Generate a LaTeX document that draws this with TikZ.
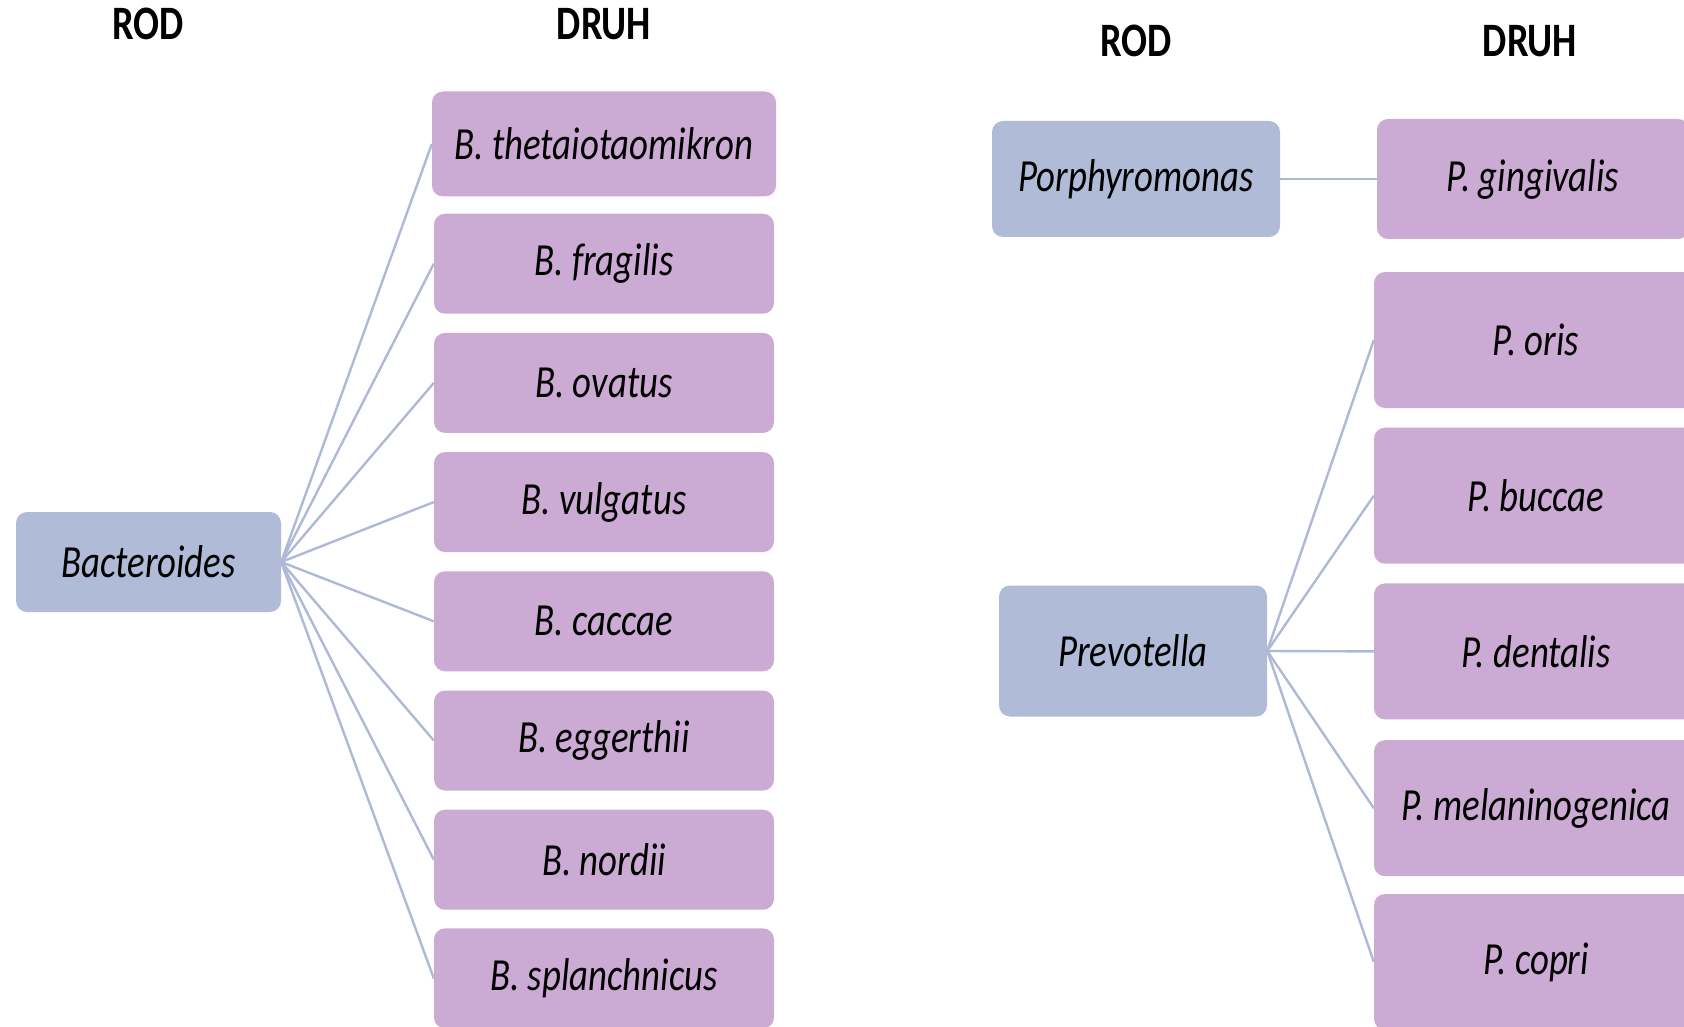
\documentclass[tikz,border=0pt]{standalone}
\usepackage{fontspec}
\setmainfont{Carlito}[FakeStretch=0.80]
\definecolor{genus}{HTML}{B0BBD7}
\definecolor{species}{HTML}{CBABD3}
\definecolor{linkc}{HTML}{AEB9D6}
\begin{document}
\begin{tikzpicture}[x=1pt,y=-1pt,
  box/.style={rounded corners=11pt, inner sep=0pt, font=\fontsize{46}{50}\selectfont\itshape, text=black},
  gbox/.style={box, fill=genus},
  sbox/.style={box, fill=species},
  hdr/.style={font=\fontsize{48}{52}\selectfont\bfseries, text=black, inner sep=0pt},
  link/.style={draw=linkc, line width=2.4pt}]
\useasboundingbox (0,0) rectangle (1684,1027);
\begin{scope}
\clip (0,0) rectangle (1684,1027);
% headers
\node[hdr] (h1) at (148,24) {ROD};
\node[hdr] (h2) at (604,24) {DRUH};
\node[hdr] (h3) at (1136,41) {ROD};
\node[hdr] (h4) at (1530,41) {DRUH};
% left genus
\node[gbox, minimum width=265pt, minimum height=100pt] (bact) at (148.5,562) {Bacteroides};
\node[sbox, minimum width=344pt, minimum height=105pt] (b1) at (604,144) {B. thetaiotaomikron};
\foreach \n/\y/\t in {b2/263.7/B. fragilis, b3/382.9/B. ovatus, b4/502.1/B. vulgatus, b5/621.3/B. caccae, b6/740.5/B. eggerthii, b7/859.7/B. nordii, b8/978.4/B. splanchnicus}
  \node[sbox, minimum width=340pt, minimum height=100pt] (\n) at (604,\y) {\t};
\foreach \n in {b1,b2,b3,b4,b5,b6,b7,b8}
  \draw[link] (bact.east) -- (\n.west);
% right genus
\node[gbox, minimum width=288pt, minimum height=116pt] (porph) at (1136,179) {Porphyromonas};
\node[sbox, minimum width=312pt, minimum height=120pt] (pg) at (1533,179) {P. gingivalis};
\draw[link] (porph.east) -- (pg.west);
\node[gbox, minimum width=268pt, minimum height=131pt] (prev) at (1133,651) {Prevotella};
\foreach \n/\y/\t in {p1/340/P. oris, p2/495.7/P. buccae, p3/651.4/P. dentalis, p4/808.2/P. melaninogenica, p5/962/P. copri}
  \node[sbox, minimum width=324pt, minimum height=136pt] (\n) at (1536,\y) {\t};
\foreach \n in {p1,p2,p3,p4,p5}
  \draw[link] (prev.east) -- (\n.west);
\end{scope}
\end{tikzpicture}
\end{document}
